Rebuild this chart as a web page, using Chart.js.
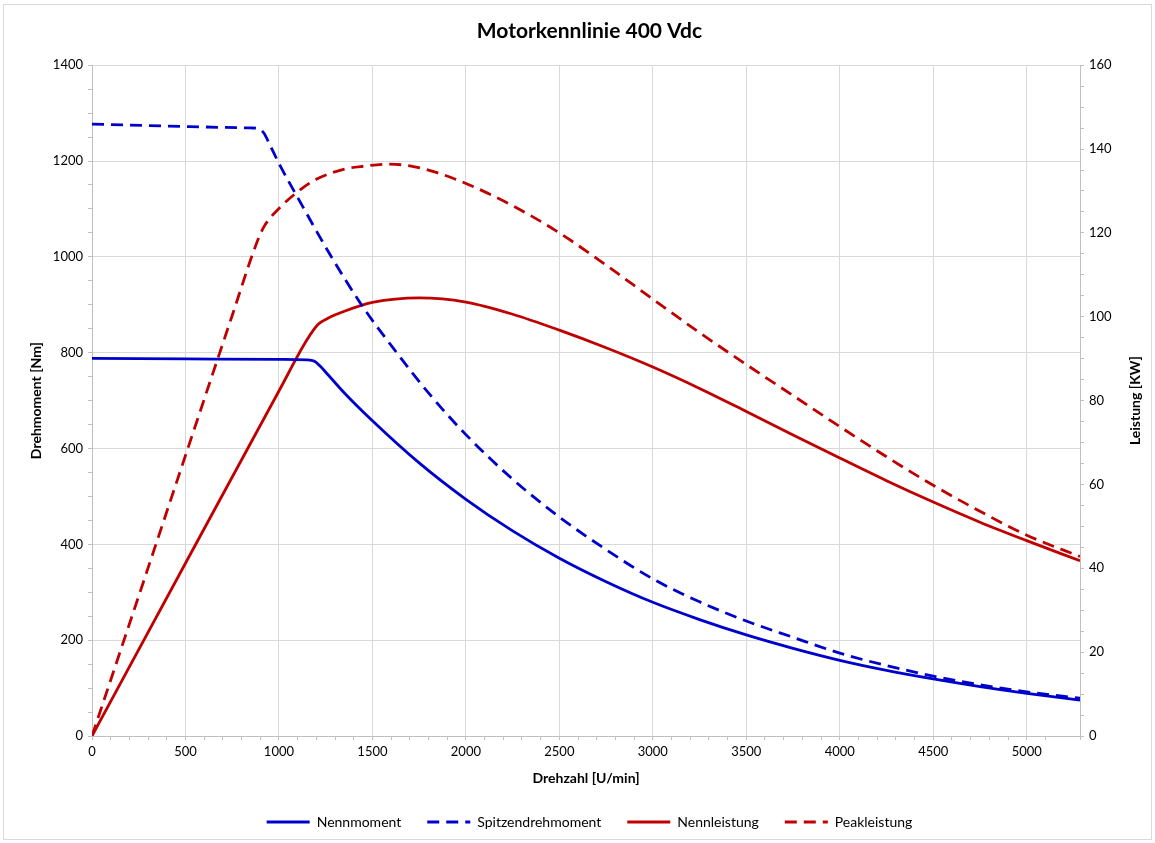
<!DOCTYPE html>
<html>
<head>
<meta charset="utf-8">
<script src="https://cdn.jsdelivr.net/npm/chart.js@4"></script>
<style>
  html, body { margin: 0; padding: 0; background: #fff; }
  #wrap { width: 1155px; height: 843px; }
</style>
</head>
<body>
<div id="wrap"><canvas id="c" width="1155" height="843"></canvas></div>
<script>
// Nennmoment [Nm]
const nmRpm = [0, 500, 1000, 1150, 1190, 1220, 1260, 1350, 1500, 1750, 2000, 2250, 2500, 2750, 3000, 3250, 3500, 3750, 4000, 4250, 4500, 4750, 5000, 5285];
const nmVal = [788, 787, 786, 785, 782, 772, 755, 716, 658, 570, 494, 428, 371, 322, 279, 243, 211, 183, 158, 137, 119, 103, 89, 75];

// Spitzendrehmoment [Nm]
const smRpm = [0, 500, 850, 890, 920, 950, 1000, 1100, 1270, 1450, 1630, 1800, 2000, 2250, 2500, 2750, 3000, 3250, 3500, 3750, 4000, 4250, 4500, 4750, 5000, 5285];
const smVal = [1277, 1272, 1269, 1268, 1258, 1235, 1195, 1124, 1007, 895, 800, 716, 629, 536, 457, 389, 328, 280, 240, 206, 173, 147, 125, 107, 92, 79];

// Nennleistung [kW]
const nlRpm = [0, 500, 1000, 1150, 1210, 1260, 1350, 1500, 1750, 2000, 2250, 2500, 2750, 3000, 3250, 3500, 3750, 4000, 4250, 4500, 4750, 5000, 5285];
const nlVal = [0, 41.2, 82.3, 94.5, 98.2, 99.6, 101.3, 103.4, 104.5, 103.5, 100.6, 96.8, 92.6, 88.0, 82.9, 77.4, 71.8, 66.3, 60.9, 55.8, 51.0, 46.6, 41.8];

// Peakleistung [kW]
const plRpm = [0, 250, 500, 750, 880, 920, 1000, 1100, 1200, 1350, 1450, 1580, 1700, 1850, 2000, 2250, 2500, 2750, 3000, 3250, 3500, 3750, 4000, 4250, 4500, 4750, 5000, 5285];
const plVal = [0, 33.4, 66.9, 100.3, 117.5, 121.5, 125.8, 129.8, 132.8, 135.2, 135.9, 136.4, 136.0, 134.3, 131.8, 126.5, 120.0, 112.3, 104.2, 96.2, 88.6, 81.2, 73.8, 66.6, 59.8, 53.6, 47.9, 42.8];

const BLUE = '#0000cc', RED = '#c00000';
const FONT = 'Lato, "Open Sans", sans-serif';
const DASH = [12, 7];

const pts = (xs, ys) => xs.map((x, i) => ({ x, y: ys[i] }));
const line = (label, data, color, axis, dash) => ({
  label, data, yAxisID: axis, borderColor: color, backgroundColor: color,
  borderWidth: 2.8, borderDash: dash || [], pointRadius: 0, pointHoverRadius: 0,
  cubicInterpolationMode: 'monotone', fill: false, pointStyle: 'line',
});

const frame = {
  id: 'frame',
  beforeDraw(chart) {
    const { ctx, width, height } = chart;
    ctx.save();
    ctx.strokeStyle = '#d9d9d9';
    ctx.lineWidth = 1;
    ctx.strokeRect(3.5, 4.5, width - 7, height - 8);
    ctx.restore();
  },
  afterDraw(chart) {
    // right axis title, reading bottom to top like the left one
    const { ctx, chartArea } = chart;
    ctx.save();
    ctx.translate(1135, (chartArea.top + chartArea.bottom) / 2);
    ctx.rotate(-Math.PI / 2);
    ctx.font = 'bold 14px ' + FONT;
    ctx.fillStyle = '#000';
    ctx.textAlign = 'center';
    ctx.textBaseline = 'middle';
    ctx.fillText('Leistung [KW]', 0, 0);
    ctx.restore();
  }
};

const major = (step) => (c) => (c.tick && Math.round(c.tick.value) % step === 0 && c.tick.value > 0) ? '#d9d9d9' : 'transparent';

new Chart(document.getElementById('c'), {
  type: 'line',
  data: { datasets: [
    line('Nennmoment', pts(nmRpm, nmVal), BLUE, 'y'),
    line('Spitzendrehmoment', pts(smRpm, smVal), BLUE, 'y', DASH),
    line('Nennleistung', pts(nlRpm, nlVal), RED, 'y2'),
    line('Peakleistung', pts(plRpm, plVal), RED, 'y2', DASH),
  ]},
  plugins: [frame],
  options: {
    responsive: false, animation: false, events: [],
    layout: { padding: { left: 24, right: 0, top: 0, bottom: 4 } },
    plugins: {
      title: { display: true, text: 'Motorkennlinie 400 Vdc', color: '#000',
        font: { family: FONT, size: 21, weight: 'bold' }, padding: { top: 19, bottom: 21 } },
      legend: { position: 'bottom',
        labels: { usePointStyle: true, pointStyle: 'line', pointStyleWidth: 43, boxHeight: 14,
          padding: 26, color: '#000', font: { family: FONT, size: 14 },
          generateLabels: (chart) => Chart.defaults.plugins.legend.labels.generateLabels(chart).map(it => {
            const ds = chart.data.datasets[it.datasetIndex];
            it.lineDash = ds.borderDash; it.lineWidth = 2.8; it.strokeStyle = ds.borderColor;
            return it;
          }) } },
      tooltip: { enabled: false },
    },
    scales: {
      x: { type: 'linear', min: 0, max: 5285,
        afterFit: s => { s.height = 53; },
        title: { display: true, text: 'Drehzahl [U/min]', color: '#000',
          font: { family: FONT, size: 14, weight: 'bold' }, padding: { top: 2, bottom: 2 } },
        ticks: { stepSize: 100, autoSkip: false, maxRotation: 0, color: '#000',
          font: { family: FONT, size: 13 }, padding: 4,
          callback: v => Math.round(v) % 500 === 0 ? Math.round(v) : '' },
        grid: { color: major(500), tickColor: '#bfbfbf', tickLength: 4, lineWidth: 1 },
        border: { color: '#bfbfbf' } },
      y: { position: 'left', min: 0, max: 1400,
        afterFit: s => { s.width = 68; },
        title: { display: true, text: 'Drehmoment [Nm]', color: '#000',
          font: { family: FONT, size: 14, weight: 'bold' } },
        ticks: { stepSize: 50, autoSkip: false, color: '#000', font: { family: FONT, size: 13 }, padding: 5,
          callback: v => Math.round(v) % 200 === 0 ? Math.round(v) : '' },
        grid: { color: major(200), tickColor: '#bfbfbf', tickLength: 4 },
        border: { color: '#bfbfbf' } },
      y2: { position: 'right', min: 0, max: 160,
        afterFit: s => { s.width = 75; },
        ticks: { stepSize: 5, autoSkip: false, color: '#000', font: { family: FONT, size: 13 }, padding: 5,
          callback: v => Math.round(v) % 20 === 0 ? Math.round(v) : '' },
        grid: { drawOnChartArea: false, tickColor: '#bfbfbf', tickLength: 4 },
        border: { color: '#bfbfbf' } },
    }
  }
});
</script>
</body>
</html>
